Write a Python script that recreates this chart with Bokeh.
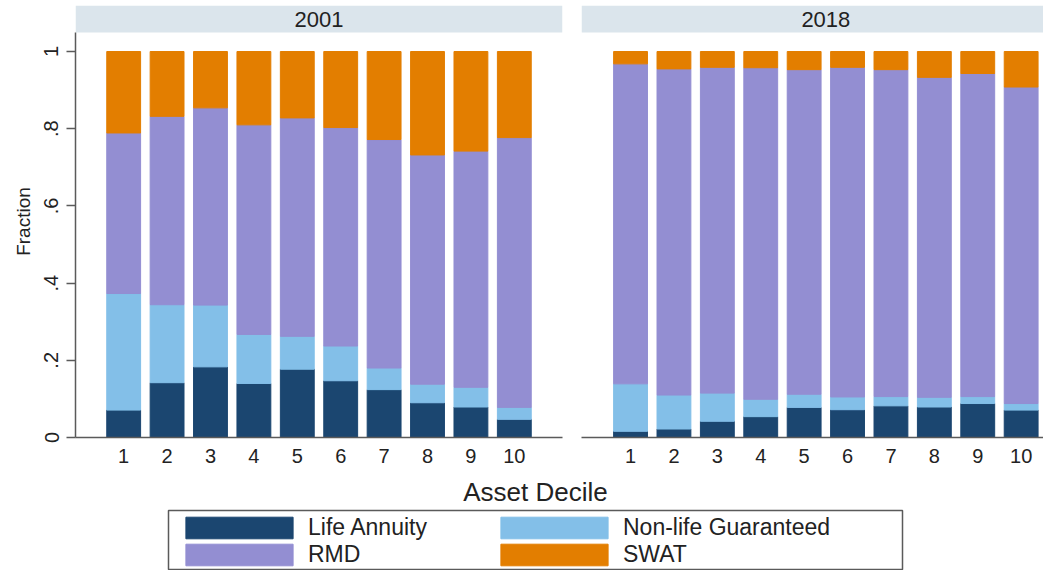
from bokeh.plotting import figure
from bokeh.models import ColumnDataSource, FixedTicker, Range1d, BoxAnnotation, Label, Title
from bokeh.layouts import column, row
from bokeh.embed import file_html
from bokeh.resources import INLINE

# ---------------- data ----------------
deciles = [1, 2, 3, 4, 5, 6, 7, 8, 9, 10]
categories = ["Life Annuity", "Non-life Guaranteed", "RMD", "SWAT"]
colors = ["#1b4670", "#83bfe8", "#938ed2", "#e37e00"]
years = ["2001", "2018"]

la_2001 = [0.071, 0.142, 0.183, 0.140, 0.177, 0.147, 0.124, 0.090, 0.079, 0.047]
nl_2001 = [0.302, 0.202, 0.160, 0.127, 0.085, 0.090, 0.056, 0.048, 0.051, 0.031]
rmd_2001 = [0.416, 0.488, 0.511, 0.543, 0.566, 0.566, 0.592, 0.594, 0.612, 0.699]
swat_2001 = [0.211, 0.168, 0.146, 0.190, 0.172, 0.197, 0.228, 0.268, 0.258, 0.223]

la_2018 = [0.016, 0.022, 0.042, 0.054, 0.078, 0.072, 0.082, 0.079, 0.088, 0.071]
nl_2018 = [0.123, 0.088, 0.073, 0.045, 0.034, 0.033, 0.024, 0.025, 0.018, 0.017]
rmd_2018 = [0.829, 0.845, 0.844, 0.859, 0.841, 0.854, 0.847, 0.829, 0.837, 0.820]
swat_2018 = [0.032, 0.045, 0.041, 0.042, 0.047, 0.041, 0.047, 0.067, 0.057, 0.092]

ytick_values = [0, 0.2, 0.4, 0.6, 0.8, 1]
ytick_labels = ["0", ".2", ".4", ".6", ".8", "1"]

FONT = "Liberation Sans"
TXT = "#222222"
AX = "#5a5a5a"
STRIP = "#dbe5ec"


def make_source(la, nl, rmd, swat):
    return ColumnDataSource(dict(decile=deciles, **{
        categories[0]: la, categories[1]: nl, categories[2]: rmd, categories[3]: swat}))


def style_panel(p, src, year):
    p.vbar_stack(categories, x="decile", width=0.78, color=colors, source=src)
    p.xgrid.grid_line_color = None
    p.ygrid.grid_line_color = None
    p.outline_line_color = None
    p.background_fill_color = "white"
    xa = p.xaxis[0]
    xa.ticker = FixedTicker(ticks=deciles)
    xa.major_tick_line_color = None
    xa.minor_tick_line_color = None
    xa.axis_line_color = AX
    xa.axis_line_width = 1.5
    xa.major_label_text_font = FONT
    xa.major_label_text_font_size = "20px"
    xa.major_label_text_color = TXT
    xa.major_label_standoff = 5
    p.add_layout(BoxAnnotation(bottom=1.049, fill_color=STRIP, fill_alpha=1.0,
                               line_color=None, level="underlay"))
    p.add_layout(Label(x=5.5, y=1.084, text=year, text_align="center",
                       text_baseline="middle", text_font=FONT,
                       text_font_size="22px", text_color=TXT))


y_range = Range1d(0, 1.1192)

p1 = figure(width=572, height=470, x_range=Range1d(-0.11, 11.11), y_range=y_range,
            output_backend="svg", toolbar_location=None, title=None,
            min_border_left=75, min_border_right=10, min_border_top=5,
            min_border_bottom=33)
style_panel(p1, make_source(la_2001, nl_2001, rmd_2001, swat_2001), years[0])
ya = p1.yaxis[0]
ya.ticker = FixedTicker(ticks=ytick_values)
ya.major_label_overrides = {v: l for v, l in zip(ytick_values, ytick_labels)}
ya.bounds = (0, 1.049)
ya.axis_line_color = AX
ya.axis_line_width = 1.5
ya.major_tick_line_color = AX
ya.major_tick_line_width = 1.5
ya.major_tick_out = 9
ya.major_tick_in = 0
ya.minor_tick_line_color = None
ya.major_label_orientation = "vertical"
ya.major_label_text_font = FONT
ya.major_label_text_font_size = "20px"
ya.major_label_text_color = TXT
ya.major_label_standoff = 8
ya.axis_label = "Fraction"
ya.axis_label_text_font = FONT
ya.axis_label_text_font_size = "19px"
ya.axis_label_text_font_style = "normal"
ya.axis_label_text_color = TXT
ya.axis_label_standoff = 8

p2 = figure(width=471, height=470, x_range=Range1d(-0.13, 10.515), y_range=y_range,
            output_backend="svg", toolbar_location=None, title=None,
            y_axis_location=None,
            min_border_left=9, min_border_right=0, min_border_top=5,
            min_border_bottom=33)
style_panel(p2, make_source(la_2018, nl_2018, rmd_2018, swat_2018), years[1])

# ---------------- bottom: axis title + legend ----------------
p3 = figure(width=1043, height=100, x_range=Range1d(0, 1), y_range=Range1d(0, 1),
            output_backend="svg", toolbar_location=None, title=None,
            x_axis_location=None, y_axis_location=None,
            min_border_left=168, min_border_right=141, min_border_top=37,
            min_border_bottom=1)
p3.xgrid.grid_line_color = None
p3.ygrid.grid_line_color = None
p3.outline_line_color = AX
p3.outline_line_width = 1.5
p3.add_layout(Title(text="Asset Decile", align="center", text_font=FONT,
                    text_font_size="26px", text_font_style="normal",
                    text_color=TXT, standoff=8), "above")

# legend proxies (no visible marks: NaN heights)
for cat, col in zip(categories, colors):
    p3.vbar(x=[0.5], top=[float("nan")], width=0.5, fill_color=col, line_color=col,
            legend_label=cat)

leg = p3.legend[0]
leg.location = "top_left"
leg.orientation = "horizontal"
leg.ncols = 2
leg.glyph_width = 134
leg.glyph_height = 27
leg.label_standoff = 2
leg.label_width = 179
leg.spacing = 0
leg.padding = 2
leg.margin = 2
leg.border_line_alpha = 0
leg.background_fill_alpha = 0
leg.label_text_font = FONT
leg.label_text_font_size = "23px"
leg.label_text_color = TXT

layout = column(row(p1, p2), p3)
open("out.html", "w").write(file_html(layout, INLINE))
